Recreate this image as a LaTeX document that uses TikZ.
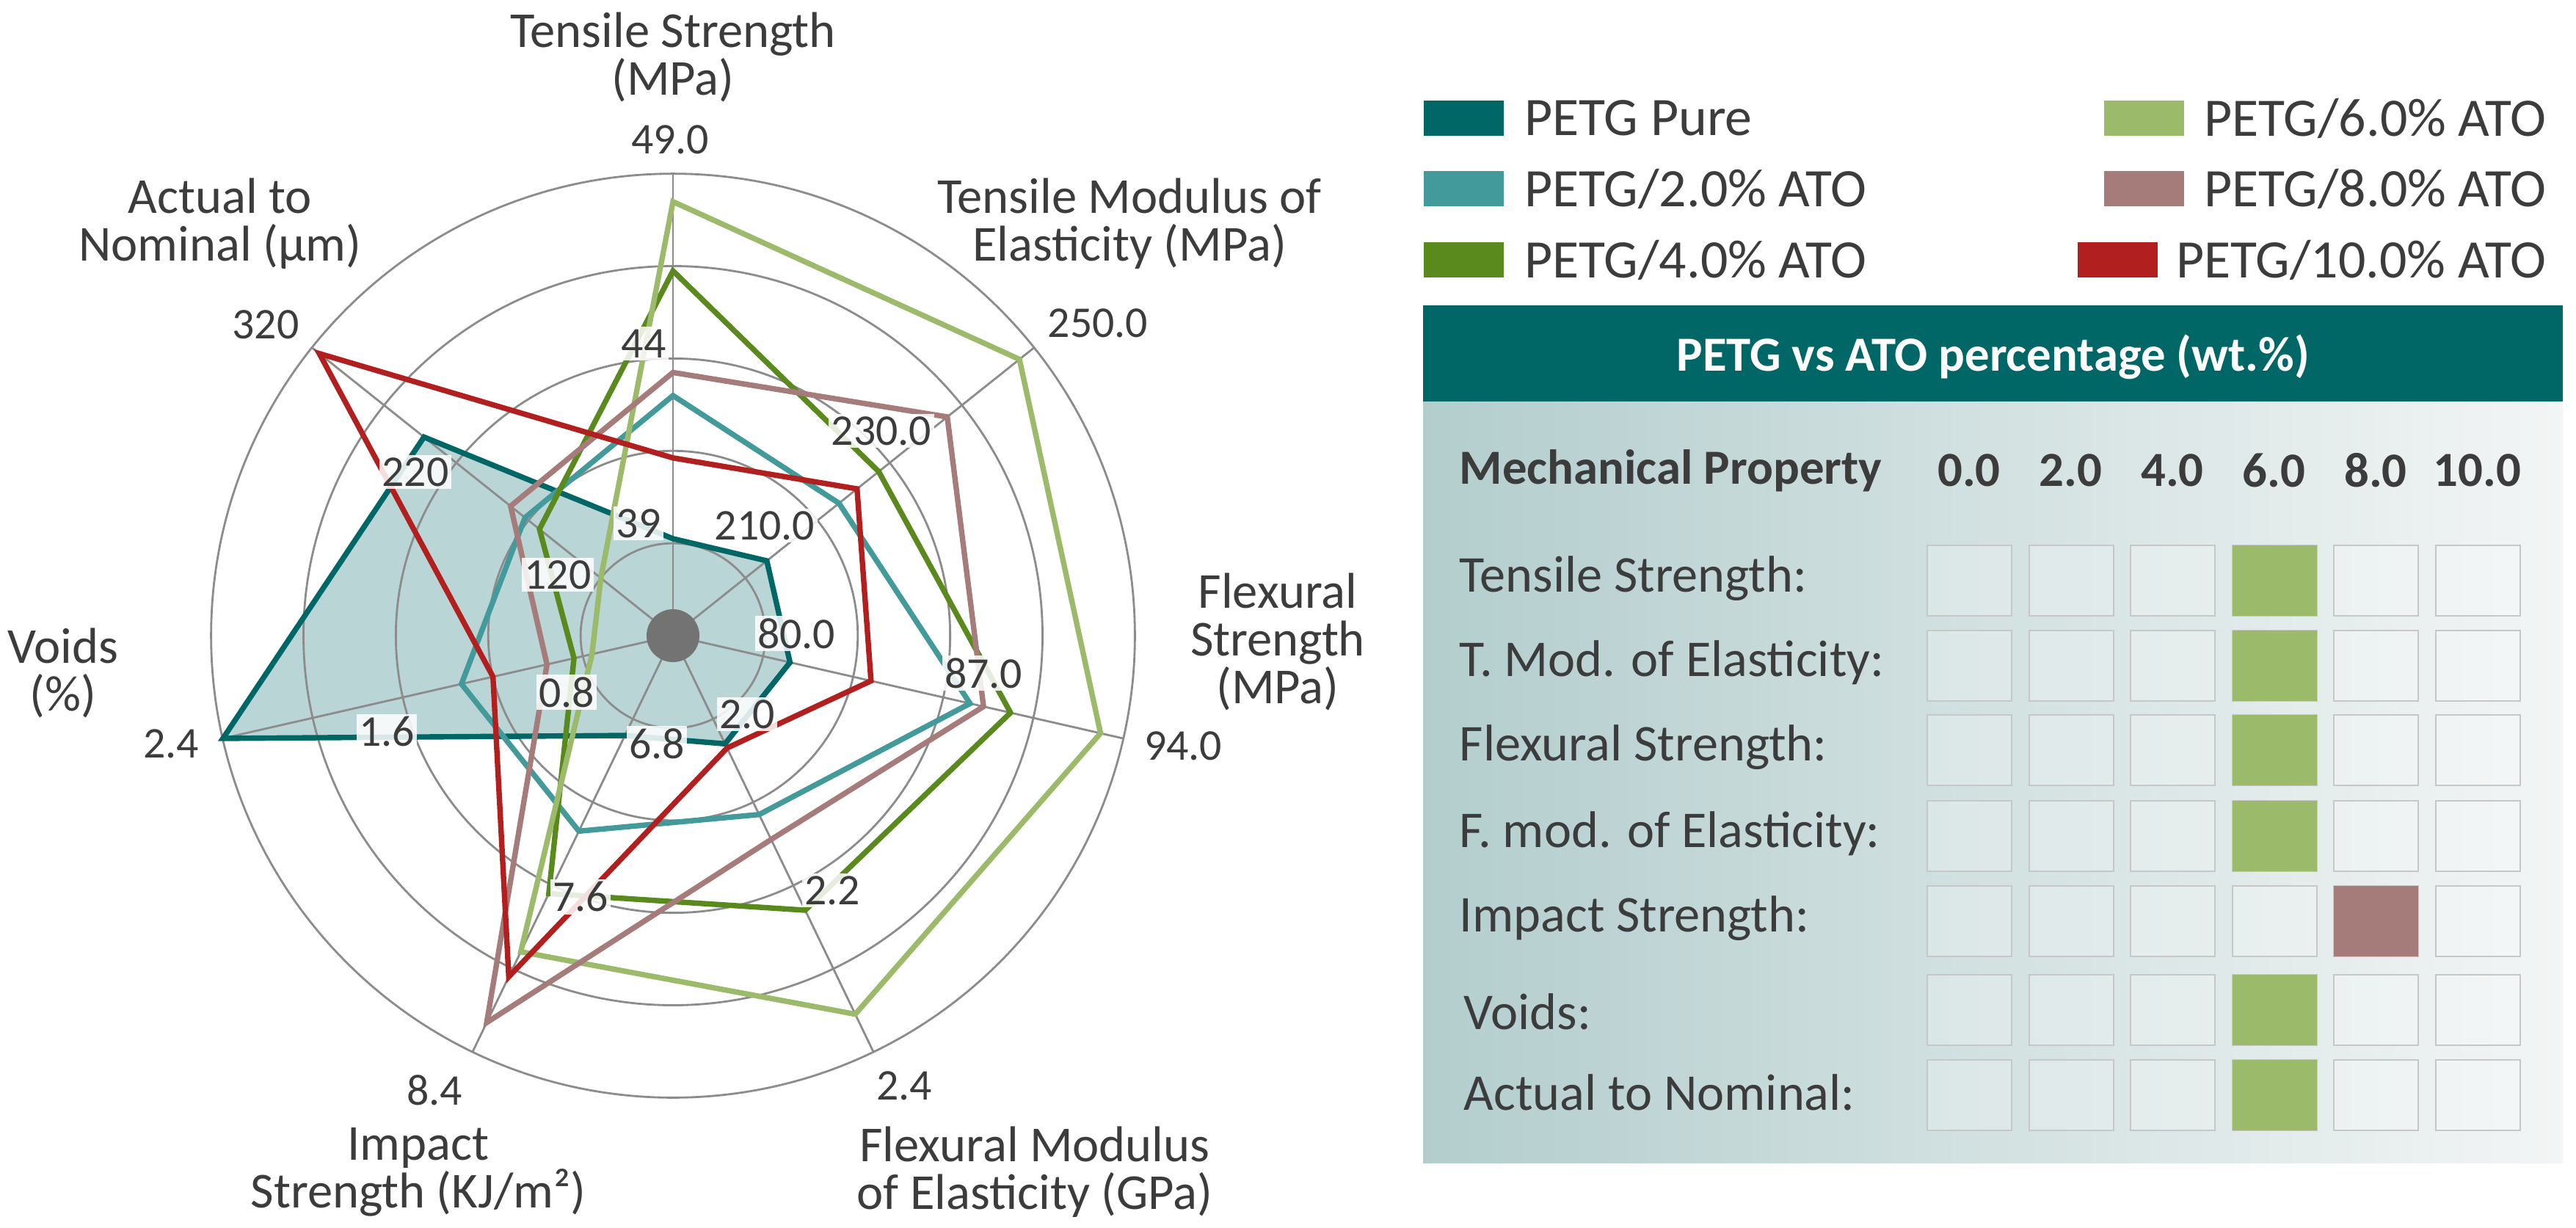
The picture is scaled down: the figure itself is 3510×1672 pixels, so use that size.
\documentclass[tikz,border=0pt]{standalone}
\usepackage{fontspec}
\setmainfont{Carlito}
\definecolor{c0}{HTML}{006666}
\definecolor{c2}{HTML}{439A9A}
\definecolor{c4}{HTML}{5A8A1E}
\definecolor{c6}{HTML}{9BBB6A}
\definecolor{c8}{HTML}{A67C7A}
\definecolor{c10}{HTML}{B21F1F}
\definecolor{gridg}{HTML}{8C8C8C}
\definecolor{txt}{HTML}{3C3C3C}
\definecolor{bodyL}{HTML}{B3CDCD}
\definecolor{bodyR}{HTML}{F3F5F5}
\def\CX{917}\def\CY{866}\def\RR{629}
\newcommand\pc[3]{\coordinate (#1) at ({\CX+\RR*(#2)*cos(90-51.4286*(#3))},{\CY-\RR*(#2)*sin(90-51.4286*(#3))});}
\newcommand\mkser[8]{%
  \pc{#1-0}{#2}{0}\pc{#1-1}{#3}{1}\pc{#1-2}{#4}{2}\pc{#1-3}{#5}{3}%
  \pc{#1-4}{#6}{4}\pc{#1-5}{#7}{5}\pc{#1-6}{#8}{6}}
\tikzset{
  ser/.style={line width=2.1pt, line join=miter},
  axt/.style={font=\fontsize{19.5}{18.5}\selectfont, text=txt, align=center},
  tk/.style={font=\fontsize{17}{17}\selectfont, text=txt, inner sep=1pt},
  tkw/.style={tk, fill=white, fill opacity=0.85, text opacity=1},
  leg/.style={font=\fontsize{21}{21}\selectfont, text=txt, anchor=west, inner sep=0pt},
  sw/.style={minimum width=1.09cm, minimum height=0.47cm, inner sep=0pt, anchor=west},
  rowl/.style={font=\fontsize{20}{20}\selectfont, text=txt, anchor=west, inner sep=0pt},
  colh/.style={font=\bfseries\fontsize{19}{19}\selectfont, text=txt, inner sep=0pt},
  cell/.style={draw=black!22, line width=0.6pt, minimum width=1.15cm, minimum height=0.96cm, inner sep=0pt, anchor=north west},
}
\begin{document}
\begin{tikzpicture}[x=0.01cm,y=-0.01cm]
\useasboundingbox (0,0) rectangle (3510,1672);
\fill[white] (0,0) rectangle (3510,1672);
% ---------- radar ----------
\mkser{pa}{0.21}{0.26}{0.26}{0.26}{0.24}{1.0}{0.69}
\mkser{pb}{0.52}{0.46}{0.66}{0.43}{0.47}{0.47}{0.41}
\mkser{pc}{0.79}{0.57}{0.75}{0.66}{0.62}{0.22}{0.37}
\mkser{pd}{0.94}{0.96}{0.95}{0.91}{0.76}{0.18}{0.2}
\mkser{pe}{0.57}{0.76}{0.69}{0.49}{0.93}{0.28}{0.45}
\mkser{pf}{0.385}{0.51}{0.44}{0.27}{0.82}{0.40}{0.98}
\mkser{ax}{1}{1}{1}{1}{1}{1}{1}
\fill[c0, fill opacity=0.27] (pa-0)--(pa-1)--(pa-2)--(pa-3)--(pa-4)--(pa-5)--(pa-6)--cycle;
\coordinate (ctr) at (\CX,\CY);
\foreach \rr in {0.2,0.4,0.6,0.8,1.0} \draw[gridg, line width=0.8pt] (ctr) circle[radius=\rr*6.29cm];
\foreach \kk in {0,...,6} \draw[gridg, line width=0.8pt] (ctr) -- (ax-\kk);
\fill[black!55] (ctr) circle[radius=0.36cm];
\draw[ser, c0] (pa-0)--(pa-1)--(pa-2)--(pa-3)--(pa-4)--(pa-5)--(pa-6)--cycle;
\draw[ser, c2] (pb-0)--(pb-1)--(pb-2)--(pb-3)--(pb-4)--(pb-5)--(pb-6)--cycle;
\draw[ser, c4] (pc-0)--(pc-1)--(pc-2)--(pc-3)--(pc-4)--(pc-5)--(pc-6)--cycle;
\draw[ser, c6] (pd-0)--(pd-1)--(pd-2)--(pd-3)--(pd-4)--(pd-5)--(pd-6)--cycle;
\draw[ser, c8] (pe-0)--(pe-1)--(pe-2)--(pe-3)--(pe-4)--(pe-5)--(pe-6)--cycle;
\draw[ser, c10] (pf-0)--(pf-1)--(pf-2)--(pf-3)--(pf-4)--(pf-5)--(pf-6)--cycle;
% tick labels
\node[tk] (t49) at (913,190) {49.0};
\node[tkw] (t44) at (877,468) {44};
\node[tkw] (t39) at (870,713) {39};
\node[tk] (t250) at (1496,440) {250.0};
\node[tkw] (t230) at (1201,587) {230.0};
\node[tkw] (t210) at (1042,716) {210.0};
\node[tk] (t94) at (1612,1016) {94.0};
\node[tkw] (t87) at (1340,917) {87.0};
\node[tkw] (t80) at (1085,863) {80.0};
\node[tk] (tf24) at (1232,1479) {2.4};
\node[tkw] (tf22) at (1134,1213) {2.2};
\node[tkw] (tf20) at (1018,973) {2.0};
\node[tk] (t84) at (592,1485) {8.4};
\node[tkw] (t76) at (791,1222) {7.6};
\node[tkw] (t68) at (895,1013) {6.8};
\node[tk] (tv24) at (233,1013) {2.4};
\node[tkw] (tv16) at (527,997) {1.6};
\node[tkw] (tv08) at (772,943) {0.8};
\node[tk] (t320) at (362,442) {320};
\node[tkw] (t220) at (566,643) {220};
\node[tkw] (t120) at (760,783) {120};
% axis titles
\node[axt] (a0) at (917,78) {Tensile Strength\\(MPa)};
\node[axt] (a1) at (1539,305) {Tensile Modulus of\\Elasticity (MPa)};
\node[axt] (a2) at (1741,874) {Flexural\\Strength\\(MPa)};
\node[axt] (a3) at (1410,1597) {Flexural Modulus\\of Elasticity (GPa)};
\node[axt] (a4) at (570,1597) {Impact\\Strength (KJ/m²)};
\node[axt] (a5) at (86,917) {Voids\\(\%)};
\node[axt] (a6) at (300,305) {Actual to\\Nominal (µm)};
% ---------- legend ----------
\node[sw, fill=c0] (l0) at (1939,161) {};
\node[leg] (lt0) at (2077,161) {PETG Pure};
\node[sw, fill=c2] (l2) at (1939,257) {};
\node[leg] (lt2) at (2077,257) {PETG/2.0\% ATO};
\node[sw, fill=c4] (l4) at (1939,354) {};
\node[leg] (lt4) at (2077,354) {PETG/4.0\% ATO};
\node[sw, fill=c6] (l6) at (2866,161) {};
\node[leg] (lt6) at (3003,161) {PETG/6.0\% ATO};
\node[sw, fill=c8] (l8) at (2866,257) {};
\node[leg] (lt8) at (3003,257) {PETG/8.0\% ATO};
\node[sw, fill=c10] (l10) at (2830,354) {};
\node[leg] (lt10) at (2965,354) {PETG/10.0\% ATO};
% ---------- table ----------
\shade[left color=bodyL, right color=bodyR] (1939,547) rectangle (3492,1584);
\fill[c0] (1939,416) rectangle (3492,547);
\node[font=\bfseries\fontsize{19}{19}\selectfont, text=white] (hdr) at (2716,486) {PETG vs ATO percentage (wt.\%)};
\node[colh, anchor=west] (mp) at (1988,641) {Mechanical Property};
\foreach \h/\ii in {0.0/0,2.0/1,4.0/2,6.0/3,8.0/4,10.0/5}
  \node[colh] (ch-\ii) at ({2683+138.5*\ii},641) {\h};
\foreach \lab/\yy/\xx/\jj in {Tensile Strength:/788/1988/0, T. Mod. of Elasticity:/903/1988/1, Flexural Strength:/1018/1988/2, F. mod. of Elasticity:/1136/1988/3, Impact Strength:/1251/1988/4, Voids:/1378/1994/5, Actual to Nominal:/1488/1994/6}
  \node[rowl] (rl-\jj) at (\xx,\yy) {\lab};
\foreach \yt/\jj in {742/0,858/1,973/2,1090/3,1206/4,1327/5,1443/6}
  \foreach \ii in {0,...,5}
    \node[cell, fill=white, fill opacity=0.25] (cl-\jj-\ii) at ({2625+138.5*\ii},\yt) {};
\foreach \yt/\jj in {742/0,858/1,973/2,1090/3,1327/5,1443/6}
  \node[cell, draw=none, fill=c6] (g-\jj) at ({2625+138.5*3},\yt) {};
\node[cell, draw=none, fill=c8] (m8) at ({2625+138.5*4},1206) {};
\end{tikzpicture}
\end{document}
